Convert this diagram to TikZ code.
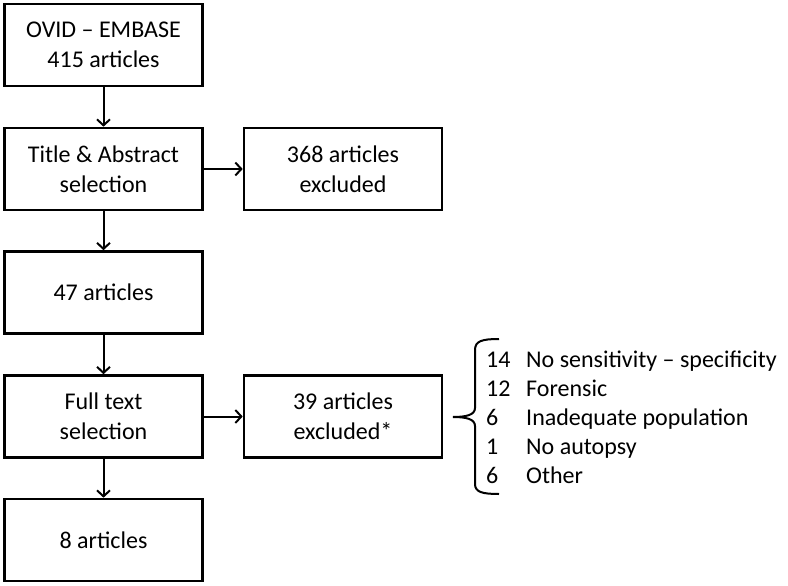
\documentclass[tikz,border=0pt]{standalone}
\usepackage{fontspec}
\setmainfont{Carlito}
\usetikzlibrary{arrows.meta}
\tikzset{
  stagebox/.style={rectangle, draw, black, line width=2.6pt, minimum width=198pt, minimum height=82pt,
    align=center, font=\fontsize{24}{30}\selectfont, inner sep=2pt},
  flow/.style={line width=2pt, -{Straight Barb[length=6pt,width=13pt,line width=2pt]}}
}
\begin{document}
\begin{tikzpicture}[x=1pt, y=-1pt]
    \useasboundingbox (0,0) rectangle (788,586);
    \draw (103.5, 45) node[stagebox](s1){OVID -- EMBASE\\415 articles}
       (103.5, 169) node[stagebox](s2){Title \& Abstract\\selection}
       (343, 169) node[stagebox](x1){368 articles\\excluded}
       (103.5, 292.5) node[stagebox](s3){47 articles}
       (103.5, 416.5) node[stagebox](s4){Full text\\selection}
       (343, 416.5) node[stagebox](x2){39 articles\\excluded*}
       (103.5, 540) node[stagebox](s5){8 articles};

    \draw[flow] (s1) -- (s2);
    \draw[flow] (s2) -- (x1);
    \draw[flow] (s2) -- (s3);
    \draw[flow] (s3) -- (s4);
    \draw[flow] (s4) -- (x2);
    \draw[flow] (s4) -- (s5);

    % reasons for exclusion
    \draw[line width=2pt] (499,339) .. controls (482,339) and (475,341) .. (475,350) -- (475,408)
       .. controls (475,415) and (466,417) .. (453,417) .. controls (466,417) and (475,419) .. (475,426)
       -- (475,484) .. controls (475,492) and (482,494) .. (499,494);
    \foreach \n/\t [count=\i] in {14/No sensitivity -- specificity, 12/Forensic,
        6/Inadequate population, 1/No autopsy, 6/Other}
      {
       \node[anchor=base west, inner sep=0pt, font=\fontsize{24}{30}\selectfont] (n\i) at (486, 338+29*\i) {\n};
       \node[anchor=base west, inner sep=0pt, font=\fontsize{24}{30}\selectfont] (t\i) at (526, 338+29*\i) {\t};
      }
\end{tikzpicture}
\end{document}
